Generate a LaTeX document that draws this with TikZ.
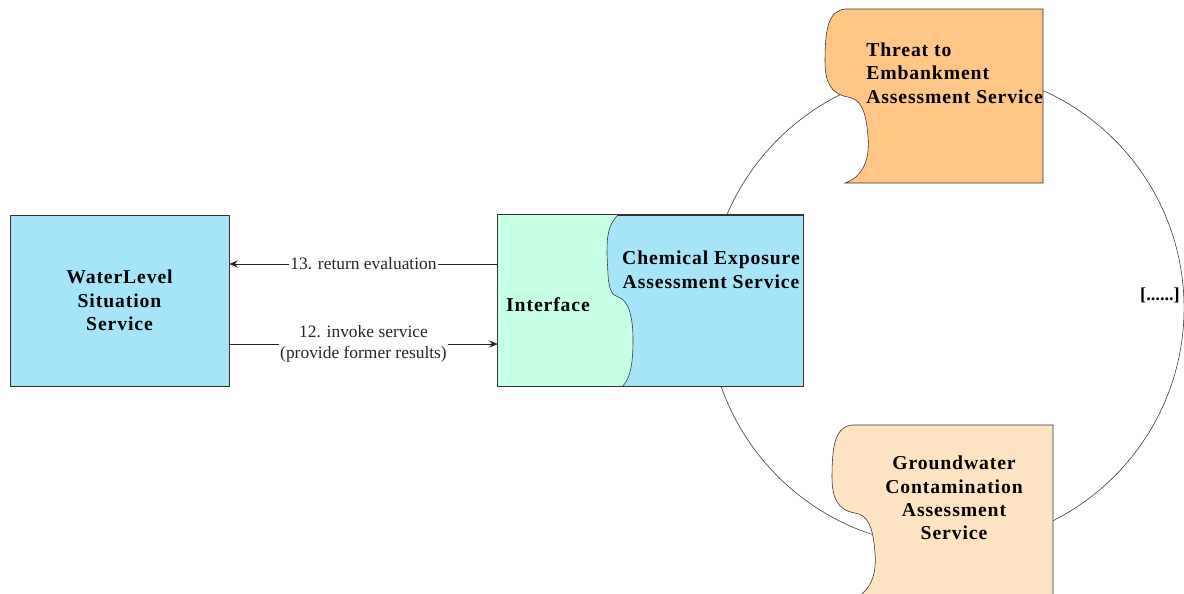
\documentclass[tikz,border=0pt]{standalone}
\usepackage{fontspec}
\setmainfont{Liberation Serif}
\newfontfamily\spacedserif[LetterSpace=4.5]{Liberation Serif}
\usetikzlibrary{arrows.meta}

\definecolor{svcblue}{RGB}{166,228,250}
\definecolor{ifacegreen}{RGB}{198,255,228}
\definecolor{threatorange}{RGB}{255,198,134}
\definecolor{groundpeach}{RGB}{255,228,196}

\begin{document}
\begin{tikzpicture}[x=0.025cm,y=-0.025cm,
		service box/.style={draw=black!80,rectangle,align=center,
			font=\spacedserif\bfseries\fontsize{14}{16.7}\selectfont},
		service text/.style={align=center,font=\spacedserif\bfseries\fontsize{14}{16.7}\selectfont},
		msg label/.style={fill=white,inner sep=1pt,align=center,
			font=\fontsize{12.4}{15}\selectfont},
		msg/.style={-{Stealth[length=6pt,width=5pt]},black!85}]

		\useasboundingbox (0,0) rectangle (1184,593);
		\clip (0,0) rectangle (1184,593);

		% ring of services
		\draw[black!80] (946,308) circle [radius=5.95cm];

		\node[service box,fill=svcblue,minimum width=5.475cm,minimum height=4.275cm] (wls) at (119.5,300.5) {WaterLevel\\Situation\\Service};

		\node[draw=black!80,fill=svcblue,minimum width=7.625cm,minimum height=4.275cm] (iface) at (650.5,300.5) {};
		\fill[ifacegreen] (iface.north west) -- (618,215) .. controls (608,225) and (607,235) .. (607,255) -- (608,275)
			.. controls (609,290) and (612,295) .. (618,297) .. controls (628,300) and (633,315) .. (633,340)
			.. controls (633,365) and (630,378) .. (623,386) -- (iface.south west) -- cycle;
		\draw[black!80] (618,215) .. controls (608,225) and (607,235) .. (607,255) -- (608,275)
			.. controls (609,290) and (612,295) .. (618,297) .. controls (628,300) and (633,315) .. (633,340)
			.. controls (633,365) and (630,378) .. (623,386);
		\draw[black!80] (iface.north west) rectangle (iface.south east);
		\node[service text] (ifacelbl) at (548,305) {Interface};
		\node[service text] (ces) at (711,270) {Chemical Exposure\\Assessment Service};

		% scroll shaped services
		\begin{scope}[shift={(845,9)}]
		\filldraw[draw=black!80,fill=threatorange] (0,0) -- (198,0) -- (198,174) -- (0,174)
			.. controls (18,168) and (25,150) .. (23,128) .. controls (21,100) and (15,90) .. (3,88)
			.. controls (-15,85) and (-20,72) .. (-20,52) .. controls (-20,18) and (-16,2) .. (0,0) -- cycle;
		\end{scope}
		\node[service text,align=left,anchor=west,inner sep=0pt] (teas) at (866,73) {Threat to\\Embankment\\Assessment Service};

		\begin{scope}[shift={(852,425)}]
		\filldraw[draw=black!80,fill=groundpeach] (0,0) -- (201,0) -- (201,174) -- (0,174)
			.. controls (18,168) and (25,150) .. (23,128) .. controls (21,100) and (15,90) .. (3,88)
			.. controls (-15,85) and (-20,72) .. (-20,52) .. controls (-20,18) and (-16,2) .. (0,0) -- cycle;
		\end{scope}
		\node[service text] (gcas) at (954,498) {Groundwater\\Contamination\\Assessment\\Service};

		\node[font=\bfseries\fontsize{13}{16}\selectfont,inner sep=0pt] (more) at (1160,295) {[......]};

		% messages
		\draw[msg] ([yshift=0.9125cm]iface.west) -- node[msg label] {13. return evaluation} ([yshift=0.9125cm]wls.east);
		\draw[msg] ([yshift=-1.0875cm]wls.east) -- node[msg label] {12. invoke service\\(provide former results)} ([yshift=-1.0875cm]iface.west);
\end{tikzpicture}
\end{document}
